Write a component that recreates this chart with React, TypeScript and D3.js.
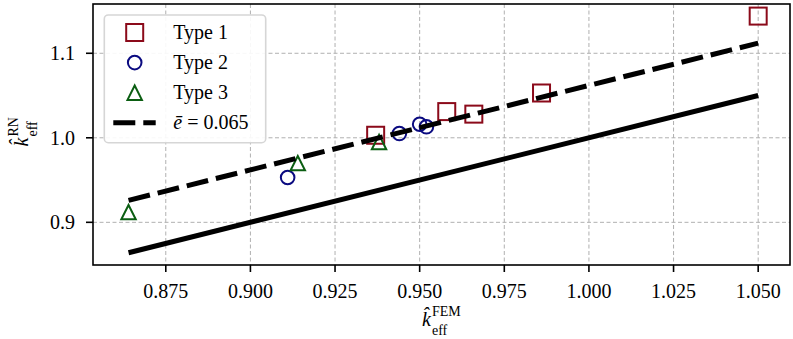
import * as d3 from 'd3';

// values
const type1X = [0.937, 0.958, 0.966, 0.986, 1.05];
const type1Y = [1.003, 1.031, 1.028, 1.053, 1.144];
const type2X = [0.911, 0.944, 0.95, 0.952];
const type2Y = [0.953, 1.005, 1.016, 1.013];
const type3X = [0.864, 0.914, 0.938];
const type3Y = [0.912, 0.97, 0.995];
const refLineX = [0.864, 1.05];
const refLineY = [0.864, 1.05];
const errLineY = [0.926, 1.112];
const xTicks = [0.875, 0.9, 0.925, 0.95, 0.975, 1.0, 1.025, 1.05];
const yTicks = [0.9, 1.0, 1.1];
const legendLabels = ['Type 1', 'Type 2', 'Type 3'];

const W = 793;
const H = 339;
const FONT = '"Liberation Serif", "DejaVu Serif", serif';
const RED = '#8b0a1a';
const NAVY = '#0a0a80';
const GREEN = '#0b5e12';

const x = d3.scaleLinear().domain([0.8535, 1.0594]).range([93, 790]);
const y = d3.scaleLinear().domain([0.8495, 1.1583]).range([265, 4]);
const [x0, x1] = x.range();
const [y0, y1] = y.range();

const line = d3
  .line<[number, number]>()
  .x((d) => x(d[0]))
  .y((d) => y(d[1]));

const zip = (a: number[], b: number[]) => a.map((v, i) => [v, b[i]] as [number, number]);

function Square({ cx, cy }: { cx: number; cy: number }) {
  return <rect x={cx - 8.5} y={cy - 8.5} width={17} height={17} fill="none" stroke={RED} strokeWidth={2} />;
}
function Circle({ cx, cy }: { cx: number; cy: number }) {
  return <circle cx={cx} cy={cy} r={6.8} fill="none" stroke={NAVY} strokeWidth={2} />;
}
function Triangle({ cx, cy }: { cx: number; cy: number }) {
  const s = 7.2;
  return (
    <path
      d={`M${cx},${cy - s}L${cx - s},${cy + s}L${cx + s},${cy + s}Z`}
      fill="none"
      stroke={GREEN}
      strokeWidth={2}
      strokeLinejoin="miter"
    />
  );
}

function AxisLabel({ sup }: { sup: string }) {
  return (
    <>
      <text x={0} y={0} fontStyle="italic" fontSize={20}>
        {'k\u0302'}
      </text>
      <text x={10} y={-10} fontSize={14}>
        {sup}
      </text>
      <text x={10} y={8.5} fontSize={14}>
        eff
      </text>
    </>
  );
}

export default function App() {
  const t1 = zip(type1X, type1Y);
  const t2 = zip(type2X, type2Y);
  const t3 = zip(type3X, type3Y);
  const legendRow = (i: number) => 32.5 + i * 30.1;

  return (
    <div style={{ position: 'absolute', left: 0, top: 0 }}>
      <svg width={W} height={H} style={{ display: 'block', background: '#fff' }} fontFamily={FONT}>
        {/* grid */}
        <g stroke="#b0b0b0" strokeWidth={1} strokeDasharray="4,2.5">
          {xTicks.map((t) => (
            <line key={`gx${t}`} x1={x(t)} x2={x(t)} y1={y1} y2={y0} />
          ))}
          {yTicks.map((t) => (
            <line key={`gy${t}`} x1={x0} x2={x1} y1={y(t)} y2={y(t)} />
          ))}
        </g>

        {/* markers */}
        {t1.map((d, i) => (
          <Square key={`s${i}`} cx={x(d[0])} cy={y(d[1])} />
        ))}
        {t2.map((d, i) => (
          <Circle key={`c${i}`} cx={x(d[0])} cy={y(d[1])} />
        ))}
        {t3.map((d, i) => (
          <Triangle key={`t${i}`} cx={x(d[0])} cy={y(d[1])} />
        ))}

        {/* reference and error lines */}
        <path d={line(zip(refLineX, refLineY)) ?? ''} fill="none" stroke="#000" strokeWidth={5} />
        <path
          d={line(zip(refLineX, errLineY)) ?? ''}
          fill="none"
          stroke="#000"
          strokeWidth={5}
          strokeDasharray="22,8"
        />

        {/* frame */}
        <rect x={x0} y={y1} width={x1 - x0} height={y0 - y1} fill="none" stroke="#000" strokeWidth={1.6} />

        {/* ticks */}
        <g stroke="#000" strokeWidth={1.6}>
          {xTicks.map((t) => (
            <line key={`tx${t}`} x1={x(t)} x2={x(t)} y1={y0} y2={y0 + 7} />
          ))}
          {yTicks.map((t) => (
            <line key={`ty${t}`} x1={x0 - 7} x2={x0} y1={y(t)} y2={y(t)} />
          ))}
        </g>
        <g fontSize={20} fill="#000">
          {xTicks.map((t) => (
            <text key={`lx${t}`} x={x(t)} y={298} textAnchor="middle">
              {d3.format('.3f')(t)}
            </text>
          ))}
          {yTicks.map((t) => (
            <text key={`ly${t}`} x={75} y={y(t) + 6.8} textAnchor="end">
              {d3.format('.1f')(t)}
            </text>
          ))}
        </g>

        {/* axis labels */}
        <g transform="translate(422,326)">
          <AxisLabel sup="FEM" />
        </g>
        <g transform={`translate(28,${(y0 + y1) / 2 + 12}) rotate(-90)`}>
          <AxisLabel sup="RN" />
        </g>

        {/* legend */}
        <rect x={104.3} y={15} width={161.4} height={127.7} rx={4} fill="#fff" fillOpacity={0.9} stroke="#d6d6d6" strokeWidth={1.6} />
        <Square cx={134.7} cy={legendRow(0)} />
        <Circle cx={134.7} cy={legendRow(1)} />
        <Triangle cx={134.7} cy={legendRow(2)} />
        <line x1={113.3} x2={155.7} y1={legendRow(3)} y2={legendRow(3)} stroke="#000" strokeWidth={5} strokeDasharray="22,8" />
        <g fontSize={20} fill="#000">
          {legendLabels.map((l, i) => (
            <text key={l} x={173.3} y={legendRow(i) + 6.3}>
              {l}
            </text>
          ))}
          <text x={173.3} y={legendRow(3) + 6.3}>
            <tspan fontStyle="italic">{'\u0113'}</tspan>
            <tspan> = 0.065</tspan>
          </text>
        </g>
      </svg>
    </div>
  );
}
